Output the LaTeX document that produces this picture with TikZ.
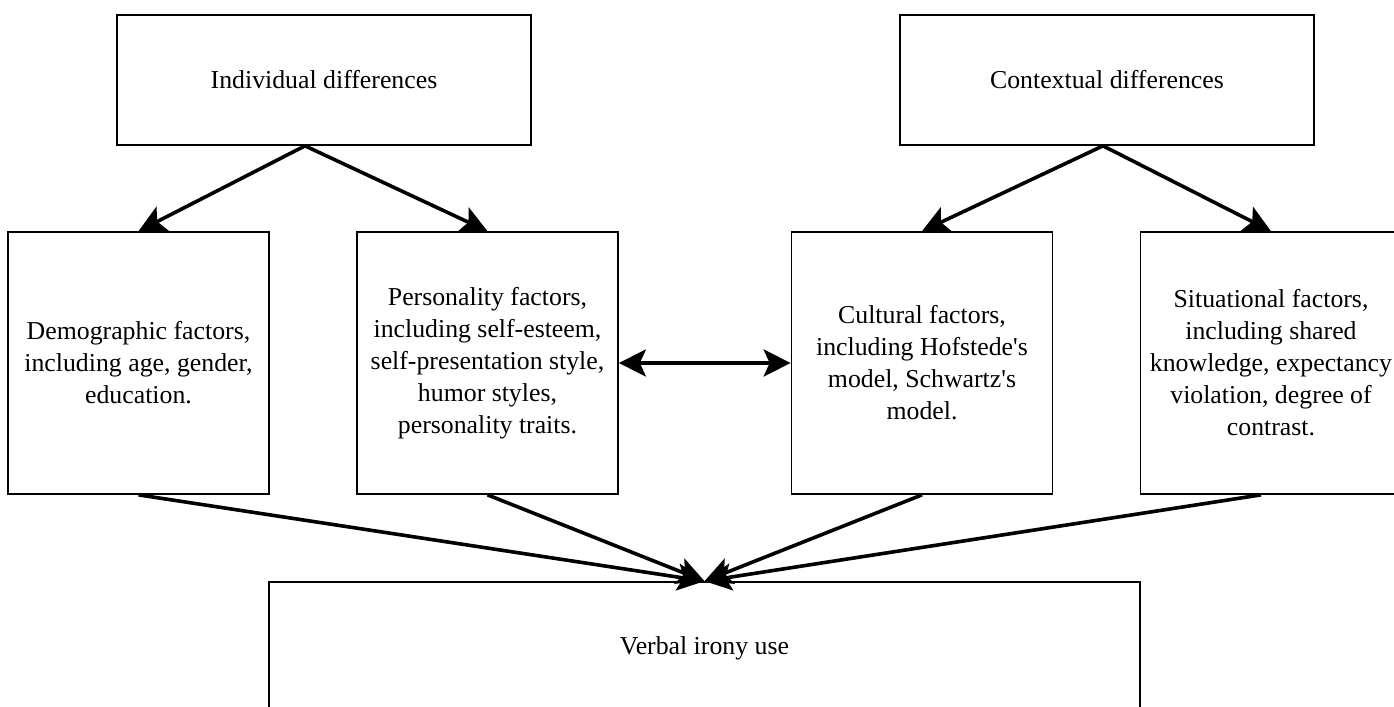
\documentclass[tikz,border=0pt]{standalone}
\usepackage{fontspec}
\setmainfont{Liberation Serif}
\usetikzlibrary{arrows.meta}
\tikzstyle{block}=[rectangle,draw=black,line width=0.85pt,align=center,inner sep=0,font=\fontsize{12.9}{16}\selectfont]
\tikzset{arc/.style={
  line width=1.8pt,
  -{Stealth[length=13.5pt,width=13.5pt,inset=3pt]}
}}
\tikzset{darc/.style={
  line width=1.8pt,
  {Stealth[length=13.5pt,width=13.5pt,inset=3pt]}-{Stealth[length=13.5pt,width=13.5pt,inset=3pt]}
}}
\tikzset{big/.style={block,minimum width=207pt,minimum height=65pt}}
\tikzset{mid/.style={block,minimum width=130.5pt,minimum height=131pt}}

\begin{document}
\begin{tikzpicture}[x=0.5pt,y=-0.5pt]

\useasboundingbox (0,0) rectangle (1394,707);

\node[big] (ind) at (324,80) {Individual differences};
\node[big] (ctx) at (1107,80) {Contextual differences};

\node[mid] (dem) at (138.5,363) {Demographic factors,\\including age, gender,\\education.};
\node[mid] (per) at (487.5,363) {Personality factors,\\including self-esteem,\\self-presentation style,\\humor styles,\\personality traits.};
\node[mid] (cul) at (922,363) {Cultural factors,\\including Hofstede\textquotesingle s\\model, Schwartz\textquotesingle s\\model.};
\node[mid] (sit) at (1271,363) {Situational factors,\\including shared\\knowledge, expectancy\\violation, degree of\\contrast.};

\node[block,minimum width=435.5pt,minimum height=66pt] (vir) at (704.5,648) {Verbal irony use};

\draw[arc] ([xshift=-9.5pt]ind.south) to (dem.north);
\draw[arc] ([xshift=-9.5pt]ind.south) to (per.north);
\draw[arc] ([xshift=-2pt]ctx.south) to (cul.north);
\draw[arc] ([xshift=-2pt]ctx.south) to (sit.north);

\draw[darc] (per.east) to (cul.west);

\draw[arc] (dem.south) to (vir.north);
\draw[arc] (per.south) to (vir.north);
\draw[arc] (cul.south) to (vir.north);
\draw[arc] ([xshift=-5pt]sit.south) to (vir.north);

\end{tikzpicture}
\end{document}
